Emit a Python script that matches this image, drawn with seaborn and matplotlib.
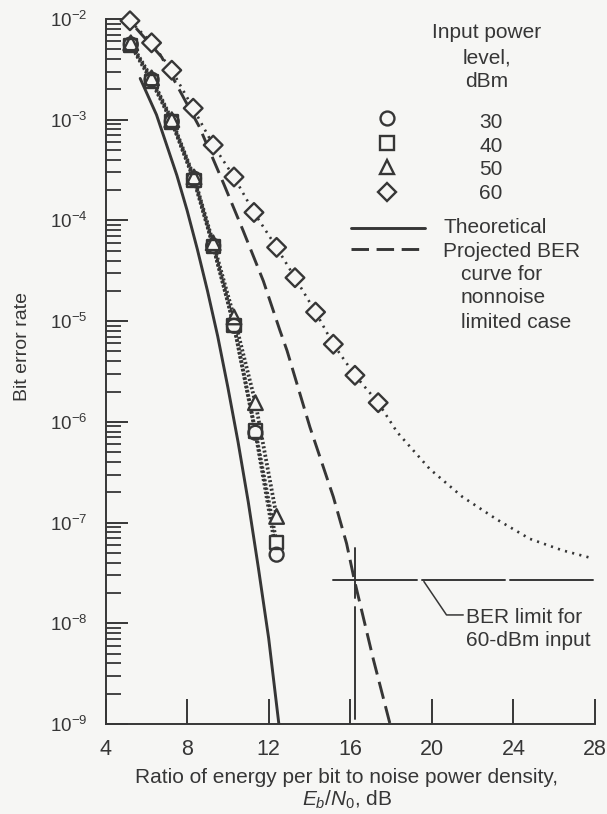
import matplotlib
matplotlib.use("Agg")
import matplotlib.pyplot as plt
from matplotlib.lines import Line2D
from matplotlib.ticker import FixedLocator, FuncFormatter, LogLocator, NullFormatter
import numpy as np
import seaborn as sns

# ---------------- data ----------------
# Measured bit error rate for 30, 40 and 50 dBm input power
ebn0_meas = [5.24, 6.26, 7.25, 8.34, 9.28, 10.30, 11.35, 12.39]
ber_30 = [5.6e-3, 2.5e-3, 9.6e-4, 2.6e-4, 5.6e-5, 9.0e-6, 7.8e-7, 4.8e-8]
ber_40 = [5.5e-3, 2.4e-3, 9.5e-4, 2.5e-4, 5.5e-5, 9.1e-6, 8.1e-7, 6.3e-8]
ber_50 = [5.8e-3, 2.6e-3, 1.0e-3, 2.7e-4, 6.0e-5, 1.1e-5, 1.55e-6, 1.15e-7]

# Measured bit error rate for 60 dBm input power
ebn0_60 = [5.20, 6.26, 7.25, 8.30, 9.28, 10.30, 11.28, 12.39, 13.29, 14.30, 15.17, 16.23, 17.37]
ber_60 = [9.6e-3, 5.8e-3, 3.1e-3, 1.3e-3, 5.6e-4, 2.7e-4, 1.2e-4, 5.4e-5, 2.7e-5,
          1.23e-5, 5.9e-6, 2.9e-6, 1.55e-6]
# 60 dBm trend continued past the last measurement (flattening toward the noise floor)
ebn0_60_trend = [17.37, 18.3, 19.9, 21.5, 23.2, 24.8, 26.4, 27.9]
ber_60_trend = [1.55e-6, 7.9e-7, 3.4e-7, 1.8e-7, 1.07e-7, 6.9e-8, 5.3e-8, 4.4e-8]

# Theoretical curve
ebn0_theory = [5.7, 6.5, 7.0, 7.5, 8.0, 8.5, 9.0, 9.5, 10.0, 10.5, 11.0, 11.5, 12.0, 12.5]
ber_theory = [2.57e-3, 1.12e-3, 5.6e-4, 2.8e-4, 1.26e-4, 5.2e-5, 2.0e-5, 7.1e-6,
              2.2e-6, 6.3e-7, 1.6e-7, 3.5e-8, 7.1e-9, 1.0e-9]

# Projected BER curve for the nonnoise limited case
ebn0_proj = [5.5, 6.75, 8.6, 9.8, 10.75, 11.74, 12.55, 12.9, 14.02, 15.17, 15.82, 16.2, 17.13, 17.95]
ber_proj = [8.1e-3, 4.2e-3, 8.5e-4, 2.3e-4, 7.9e-5, 2.5e-5, 8.1e-6, 5.1e-6, 8.9e-7,
            1.8e-7, 6.2e-8, 2.7e-8, 4.4e-9, 1.0e-9]

# BER limit for the 60-dBm input
ber_limit = 2.7e-8
ebn0_limit = 16.23
limit_segments = [(15.17, 19.25), (19.5, 23.58), (23.83, 27.9)]

power_levels = ["30", "40", "50", "60"]
x_ticks = [4, 8, 12, 16, 20, 24, 28]
y_decades = [-9, -8, -7, -6, -5, -4, -3, -2]

# ---------------- style ----------------
ink = "#363636"
paper = "#f6f6f4"

sns.set_theme(style="ticks")
plt.rcParams.update({
    "font.family": ["Liberation Sans", "DejaVu Sans"],
    "mathtext.fontset": "custom",
    "mathtext.rm": "Liberation Sans",
    "mathtext.it": "Liberation Sans:italic",
    "mathtext.bf": "Liberation Sans:bold",
    "text.color": ink,
    "axes.labelcolor": ink,
    "xtick.color": ink,
    "ytick.color": ink,
    "axes.edgecolor": ink,
})

W, H = 607, 814
fig = plt.figure(figsize=(W / 100, H / 100), dpi=100, facecolor=paper)
ax = fig.add_axes([105.5 / W, 1 - 724 / H, 489.5 / W, 705 / H])
ax.set_facecolor(paper)
ax.set_yscale("log")
ax.set_xlim(4, 28)
ax.set_ylim(1e-9, 1e-2)


def fx(px):
    return px / W


def fy(py):
    return 1 - py / H


def line(x, y, **kw):
    sns.lineplot(x=x, y=y, ax=ax, color=ink, legend=False, sort=False,
                 estimator=None, **kw)


def marks(x, y, marker, size):
    # fill pass hides the lines behind, outline pass keeps overlapping symbols visible
    sns.scatterplot(x=x, y=y, ax=ax, marker=marker, s=size ** 2, facecolor=paper,
                    edgecolor="none", linewidth=0, zorder=4, legend=False, clip_on=False)
    sns.scatterplot(x=x, y=y, ax=ax, marker=marker, s=size ** 2, facecolor="none",
                    edgecolor=ink, linewidth=1.7, zorder=5, legend=False, clip_on=False)


# curves
line(ebn0_theory, ber_theory, linewidth=2.1, zorder=2)
line(ebn0_proj, ber_proj, linewidth=2.1, linestyle=(0, (6.0, 2.6)), zorder=2)
for ber in (ber_30, ber_40, ber_50):
    line(ebn0_meas, ber, linewidth=2.7, linestyle=(0, (0.55, 0.6)), zorder=2)
line(ebn0_60, ber_60, linewidth=1.9, linestyle=(0, (0.8, 2.0)), zorder=2)
line(ebn0_60_trend, ber_60_trend, linewidth=1.9, linestyle=(0, (0.8, 2.0)), zorder=2)

# measured points
marks(ebn0_meas, ber_30, "o", 10)
marks(ebn0_meas, ber_40, "s", 9.5)
marks(ebn0_meas, ber_50, "^", 10.5)
marks(ebn0_60, ber_60, "D", 9.5)

# BER limit lines and callout
for x0, x1 in limit_segments:
    ax.plot([x0, x1], [ber_limit, ber_limit], color=ink, lw=1.4, zorder=3)
ax.plot([ebn0_limit, ebn0_limit], [5.6e-8, 1.8e-8], color=ink, lw=1.4, zorder=3)
ax.plot([ebn0_limit, ebn0_limit], [1.45e-8, 1.12e-9], color=ink, lw=1.4, zorder=3)
ax.plot([19.61, 20.72, 21.54], [2.6e-8, 1.21e-8, 1.21e-8], color=ink, lw=1.1, zorder=3)
ax.text(21.66, 1.0e-8, "BER limit for", fontsize=15, ha="left", va="baseline")
ax.text(21.66, 6.0e-9, "60-dBm input", fontsize=15, ha="left", va="baseline")

# axes
sns.despine(ax=ax, top=True, right=True)
for side in ("left", "bottom"):
    ax.spines[side].set_linewidth(1.4)
ax.xaxis.set_major_locator(FixedLocator(x_ticks))
ax.yaxis.set_major_locator(FixedLocator([10.0 ** d for d in y_decades]))
ax.yaxis.set_minor_locator(LogLocator(base=10, subs=np.arange(2, 10), numticks=30))
ax.yaxis.set_minor_formatter(NullFormatter())
ax.yaxis.set_major_formatter(
    FuncFormatter(lambda v, _: r"$\mathregular{10^{%d}}$" % round(np.log10(v))))
ax.tick_params(axis="x", which="major", direction="in", length=18, width=1.4,
               pad=11, labelsize=15.5)
ax.tick_params(axis="y", which="major", direction="in", length=15.5, width=1.4,
               pad=13, labelsize=13.5)
ax.tick_params(axis="y", which="minor", direction="in", length=10.5, width=1.3)

ax.set_ylabel("Bit error rate", fontsize=14)
ax.yaxis.set_label_coords(-0.152, 0.535)
ax.set_xlabel("Ratio of energy per bit to noise power density,\n"
              r"$E_b/N_\mathrm{0}$, dB", fontsize=15, linespacing=1.1)
ax.xaxis.set_label_coords(0.493, -0.062)

# key
fig.text(fx(487), fy(38), "Input power", fontsize=15, ha="center", va="baseline")
fig.text(fx(487), fy(63), "level,", fontsize=15, ha="center", va="baseline")
fig.text(fx(487), fy(87), "dBm", fontsize=15, ha="center", va="baseline")

key_markers = [("o", 10, 118.3), ("s", 9.5, 143.3), ("^", 10.5, 166.7), ("D", 9.5, 191.7)]
key_baselines = [128.3, 151.7, 175.0, 199.0]
for (mk, ms, py), label, base in zip(key_markers, power_levels, key_baselines):
    fig.add_artist(Line2D([fx(386.7)], [fy(py)], marker=mk, markersize=ms,
                          markerfacecolor="none", markeredgecolor=ink,
                          markeredgewidth=1.7, linestyle="none"))
    fig.text(fx(490.7), fy(base), label, fontsize=15, ha="center", va="baseline")

fig.add_artist(Line2D([fx(350.7), fx(425)], [fy(228.3)] * 2, color=ink, lw=2.1))
fig.add_artist(Line2D([fx(350.7), fx(421.7)], [fy(249.3)] * 2, color=ink, lw=2.1,
                      linestyle=(0, (6.0, 2.6))))
fig.text(fx(443.3), fy(233.3), "Theoretical", fontsize=15, ha="left", va="baseline")
fig.text(fx(443.3), fy(256.7), "Projected BER", fontsize=15, ha="left", va="baseline")
fig.text(fx(460.7), fy(280.0), "curve for", fontsize=15, ha="left", va="baseline")
fig.text(fx(460.7), fy(303.3), "nonnoise", fontsize=15, ha="left", va="baseline")
fig.text(fx(460.7), fy(328.3), "limited case", fontsize=15, ha="left", va="baseline")

fig.savefig("out.png", dpi=100, facecolor=paper)
